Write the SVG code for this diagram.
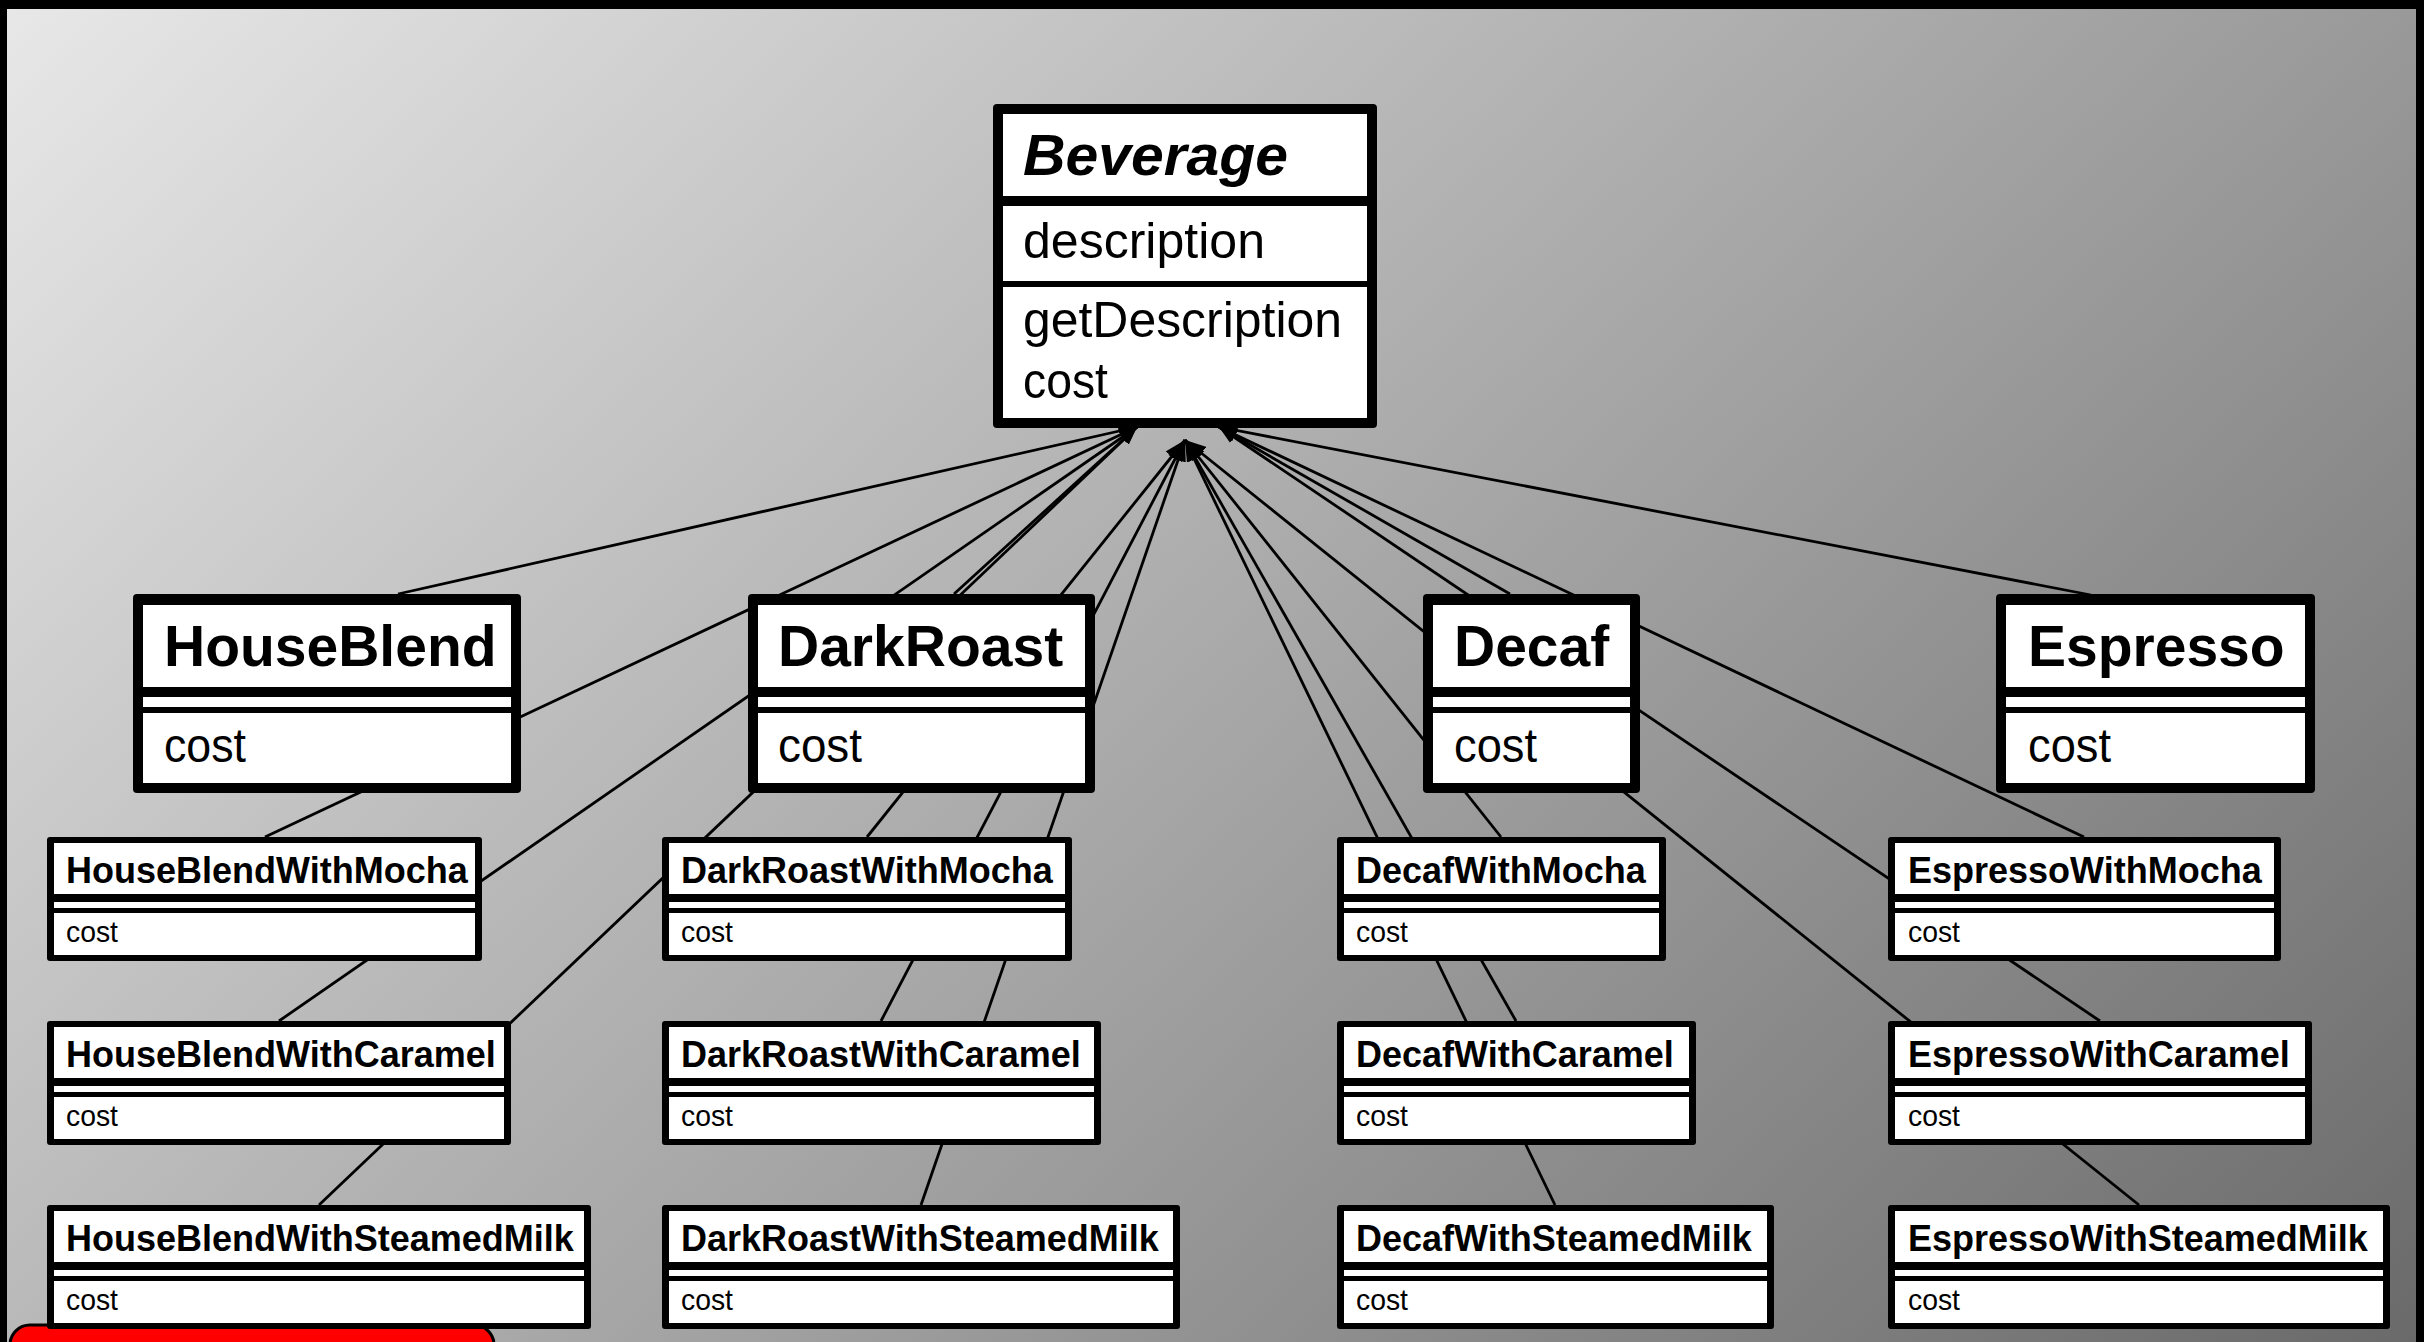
<svg xmlns="http://www.w3.org/2000/svg" width="2424" height="1342" viewBox="0 0 2424 1342">
  <defs>
    <linearGradient id="bg" gradientUnits="userSpaceOnUse" x1="0" y1="0" x2="1786" y2="1931">
      <stop offset="0" stop-color="#e8e8e8"/>
      <stop offset="1" stop-color="#6a6a6a"/>
    </linearGradient>
    <marker id="tri" viewBox="0 0 18 14" refX="18" refY="7" markerWidth="18" markerHeight="14" markerUnits="userSpaceOnUse" orient="auto">
      <path d="M0,0 L18,7 L0,14 z" fill="#000"/>
    </marker>
    <marker id="tri-lg" viewBox="0 0 21 16" refX="21" refY="8" markerWidth="21" markerHeight="16" markerUnits="userSpaceOnUse" orient="auto">
      <path d="M0,0 L21,8 L0,16 z" fill="#000"/>
    </marker>
  </defs>
  <style>
    .frame { fill: #000; }
    .cell { fill: #fff; }
    .name { font-family: "Liberation Sans", Arial, sans-serif; font-weight: bold; fill: #000; }
    .big { font-size: 57px; }
    .small { font-size: 36px; }
    .member { font-family: "Liberation Sans", Arial, sans-serif; fill: #000; }
    .mbig { font-size: 48px; }
    .msmall { font-size: 30px; }
    .edge { stroke: #000; stroke-width: 2.8; fill: none; marker-end: url(#tri); }
    .edge.pile { marker-end: url(#tri-lg); }
  </style>

  <!-- slide background with dark frame -->
  <rect x="0" y="0" width="2424" height="1342" fill="#000"/>
  <rect x="7" y="9" width="2409" height="1333" fill="url(#bg)"/>
  <rect x="10" y="1325" width="484" height="40" rx="20" fill="#ff0000" stroke="#000" stroke-width="3"/>

  <!-- generalization links, drawn beneath the class boxes -->
  <g id="connectors">
    <line class="edge" x1="398" y1="594" x2="1137" y2="427"/>
    <line class="edge" x1="265" y1="837" x2="1137" y2="427"/>
    <line class="edge" x1="279" y1="1021" x2="1137" y2="427"/>
    <line class="edge" x1="319" y1="1205" x2="1137" y2="427"/>
    <line class="edge" x1="954" y1="594" x2="1137" y2="427"/>
    <line class="edge pile" x1="867" y1="837" x2="1185" y2="440"/>
    <line class="edge pile" x1="881" y1="1021" x2="1185" y2="440"/>
    <line class="edge pile" x1="921" y1="1205" x2="1185" y2="440"/>
    <line class="edge pile" x1="1501" y1="837" x2="1185" y2="440"/>
    <line class="edge pile" x1="1516" y1="1021" x2="1185" y2="440"/>
    <line class="edge pile" x1="1555" y1="1205" x2="1185" y2="440"/>
    <line class="edge pile" x1="2139" y1="1205" x2="1185" y2="440"/>
    <line class="edge" x1="1510" y1="594" x2="1219" y2="427"/>
    <line class="edge" x1="2091" y1="595" x2="1219" y2="427"/>
    <line class="edge" x1="2084" y1="837" x2="1219" y2="427"/>
    <line class="edge" x1="2100" y1="1021" x2="1219" y2="427"/>
  </g>

  <!-- abstract base class -->
  <g id="beverage">
    <rect class="frame" x="993" y="104" width="384" height="324" rx="4"/>
    <rect class="cell" x="1003" y="114" width="364" height="82"/>
    <rect class="cell" x="1003" y="206" width="364" height="75"/>
    <rect class="cell" x="1003" y="287" width="364" height="131"/>
    <text class="name" x="1023" y="175" font-size="58" font-style="italic" textLength="265" lengthAdjust="spacingAndGlyphs">Beverage</text>
    <text class="member" x="1023" y="258" font-size="50" textLength="242" lengthAdjust="spacingAndGlyphs">description</text>
    <text class="member" x="1023" y="337" font-size="50" textLength="319" lengthAdjust="spacingAndGlyphs">getDescription</text>
    <text class="member" x="1023" y="398" font-size="50" textLength="85" lengthAdjust="spacingAndGlyphs">cost</text>
  </g>

  <!-- concrete beverages -->
  <g id="houseblend">
    <rect class="frame" x="133" y="594" width="388" height="199" rx="4"/>
    <rect class="cell" x="143" y="605" width="368" height="82"/>
    <rect class="cell" x="143" y="697" width="368" height="10"/>
    <rect class="cell" x="143" y="713" width="368" height="70"/>
    <text class="name big" x="164" y="666">HouseBlend</text>
    <text class="member mbig" x="164" y="762" textLength="82" lengthAdjust="spacingAndGlyphs">cost</text>
  </g>
  <g id="darkroast">
    <rect class="frame" x="748" y="594" width="347" height="199" rx="4"/>
    <rect class="cell" x="758" y="605" width="327" height="82"/>
    <rect class="cell" x="758" y="697" width="327" height="10"/>
    <rect class="cell" x="758" y="713" width="327" height="70"/>
    <text class="name big" x="778" y="666">DarkRoast</text>
    <text class="member mbig" x="778" y="762" textLength="84" lengthAdjust="spacingAndGlyphs">cost</text>
  </g>
  <g id="decaf">
    <rect class="frame" x="1423" y="594" width="217" height="199" rx="4"/>
    <rect class="cell" x="1433" y="605" width="197" height="82"/>
    <rect class="cell" x="1433" y="697" width="197" height="10"/>
    <rect class="cell" x="1433" y="713" width="197" height="70"/>
    <text class="name big" x="1454" y="666">Decaf</text>
    <text class="member mbig" x="1454" y="762" textLength="83" lengthAdjust="spacingAndGlyphs">cost</text>
  </g>
  <g id="espresso">
    <rect class="frame" x="1996" y="594" width="319" height="199" rx="4"/>
    <rect class="cell" x="2006" y="605" width="299" height="82"/>
    <rect class="cell" x="2006" y="697" width="299" height="10"/>
    <rect class="cell" x="2006" y="713" width="299" height="70"/>
    <text class="name big" x="2028" y="666">Espresso</text>
    <text class="member mbig" x="2028" y="762" textLength="83" lengthAdjust="spacingAndGlyphs">cost</text>
  </g>

  <!-- HouseBlend combinations -->
  <g id="houseblend-mocha">
    <rect class="frame" x="47" y="837" width="435" height="124" rx="3"/>
    <rect class="cell" x="54" y="843" width="421" height="51"/>
    <rect class="cell" x="54" y="902" width="421" height="6"/>
    <rect class="cell" x="54" y="913" width="421" height="42"/>
    <text class="name small" x="66" y="883">HouseBlendWithMocha</text>
    <text class="member msmall" x="66" y="942" textLength="52" lengthAdjust="spacingAndGlyphs">cost</text>
  </g>
  <g id="houseblend-caramel">
    <rect class="frame" x="47" y="1021" width="464" height="124" rx="3"/>
    <rect class="cell" x="54" y="1027" width="450" height="51"/>
    <rect class="cell" x="54" y="1086" width="450" height="6"/>
    <rect class="cell" x="54" y="1097" width="450" height="42"/>
    <text class="name small" x="66" y="1067">HouseBlendWithCaramel</text>
    <text class="member msmall" x="66" y="1126" textLength="52" lengthAdjust="spacingAndGlyphs">cost</text>
  </g>
  <g id="houseblend-steamedmilk">
    <rect class="frame" x="47" y="1205" width="544" height="124" rx="3"/>
    <rect class="cell" x="54" y="1211" width="530" height="51"/>
    <rect class="cell" x="54" y="1270" width="530" height="6"/>
    <rect class="cell" x="54" y="1281" width="530" height="42"/>
    <text class="name small" x="66" y="1251">HouseBlendWithSteamedMilk</text>
    <text class="member msmall" x="66" y="1310" textLength="52" lengthAdjust="spacingAndGlyphs">cost</text>
  </g>

  <!-- DarkRoast combinations -->
  <g id="darkroast-mocha">
    <rect class="frame" x="662" y="837" width="410" height="124" rx="3"/>
    <rect class="cell" x="669" y="843" width="396" height="51"/>
    <rect class="cell" x="669" y="902" width="396" height="6"/>
    <rect class="cell" x="669" y="913" width="396" height="42"/>
    <text class="name small" x="681" y="883">DarkRoastWithMocha</text>
    <text class="member msmall" x="681" y="942" textLength="52" lengthAdjust="spacingAndGlyphs">cost</text>
  </g>
  <g id="darkroast-caramel">
    <rect class="frame" x="662" y="1021" width="439" height="124" rx="3"/>
    <rect class="cell" x="669" y="1027" width="425" height="51"/>
    <rect class="cell" x="669" y="1086" width="425" height="6"/>
    <rect class="cell" x="669" y="1097" width="425" height="42"/>
    <text class="name small" x="681" y="1067">DarkRoastWithCaramel</text>
    <text class="member msmall" x="681" y="1126" textLength="52" lengthAdjust="spacingAndGlyphs">cost</text>
  </g>
  <g id="darkroast-steamedmilk">
    <rect class="frame" x="662" y="1205" width="518" height="124" rx="3"/>
    <rect class="cell" x="669" y="1211" width="504" height="51"/>
    <rect class="cell" x="669" y="1270" width="504" height="6"/>
    <rect class="cell" x="669" y="1281" width="504" height="42"/>
    <text class="name small" x="681" y="1251">DarkRoastWithSteamedMilk</text>
    <text class="member msmall" x="681" y="1310" textLength="52" lengthAdjust="spacingAndGlyphs">cost</text>
  </g>

  <!-- Decaf combinations -->
  <g id="decaf-mocha">
    <rect class="frame" x="1337" y="837" width="329" height="124" rx="3"/>
    <rect class="cell" x="1344" y="843" width="315" height="51"/>
    <rect class="cell" x="1344" y="902" width="315" height="6"/>
    <rect class="cell" x="1344" y="913" width="315" height="42"/>
    <text class="name small" x="1356" y="883">DecafWithMocha</text>
    <text class="member msmall" x="1356" y="942" textLength="52" lengthAdjust="spacingAndGlyphs">cost</text>
  </g>
  <g id="decaf-caramel">
    <rect class="frame" x="1337" y="1021" width="359" height="124" rx="3"/>
    <rect class="cell" x="1344" y="1027" width="345" height="51"/>
    <rect class="cell" x="1344" y="1086" width="345" height="6"/>
    <rect class="cell" x="1344" y="1097" width="345" height="42"/>
    <text class="name small" x="1356" y="1067">DecafWithCaramel</text>
    <text class="member msmall" x="1356" y="1126" textLength="52" lengthAdjust="spacingAndGlyphs">cost</text>
  </g>
  <g id="decaf-steamedmilk">
    <rect class="frame" x="1337" y="1205" width="437" height="124" rx="3"/>
    <rect class="cell" x="1344" y="1211" width="423" height="51"/>
    <rect class="cell" x="1344" y="1270" width="423" height="6"/>
    <rect class="cell" x="1344" y="1281" width="423" height="42"/>
    <text class="name small" x="1356" y="1251">DecafWithSteamedMilk</text>
    <text class="member msmall" x="1356" y="1310" textLength="52" lengthAdjust="spacingAndGlyphs">cost</text>
  </g>

  <!-- Espresso combinations -->
  <g id="espresso-mocha">
    <rect class="frame" x="1888" y="837" width="393" height="124" rx="3"/>
    <rect class="cell" x="1895" y="843" width="379" height="51"/>
    <rect class="cell" x="1895" y="902" width="379" height="6"/>
    <rect class="cell" x="1895" y="913" width="379" height="42"/>
    <text class="name small" x="1908" y="883">EspressoWithMocha</text>
    <text class="member msmall" x="1908" y="942" textLength="52" lengthAdjust="spacingAndGlyphs">cost</text>
  </g>
  <g id="espresso-caramel">
    <rect class="frame" x="1888" y="1021" width="424" height="124" rx="3"/>
    <rect class="cell" x="1895" y="1027" width="410" height="51"/>
    <rect class="cell" x="1895" y="1086" width="410" height="6"/>
    <rect class="cell" x="1895" y="1097" width="410" height="42"/>
    <text class="name small" x="1908" y="1067">EspressoWithCaramel</text>
    <text class="member msmall" x="1908" y="1126" textLength="52" lengthAdjust="spacingAndGlyphs">cost</text>
  </g>
  <g id="espresso-steamedmilk">
    <rect class="frame" x="1888" y="1205" width="502" height="124" rx="3"/>
    <rect class="cell" x="1895" y="1211" width="488" height="51"/>
    <rect class="cell" x="1895" y="1270" width="488" height="6"/>
    <rect class="cell" x="1895" y="1281" width="488" height="42"/>
    <text class="name small" x="1908" y="1251">EspressoWithSteamedMilk</text>
    <text class="member msmall" x="1908" y="1310" textLength="52" lengthAdjust="spacingAndGlyphs">cost</text>
  </g>
</svg>
